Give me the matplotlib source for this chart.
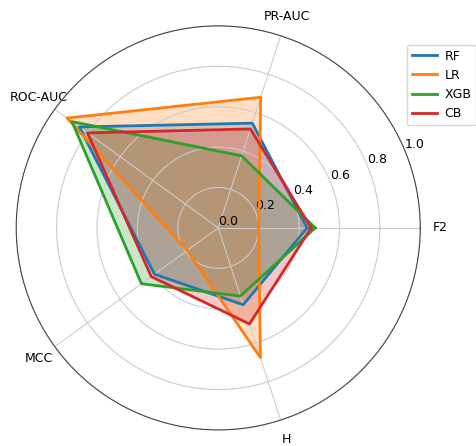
import numpy as np
import matplotlib
matplotlib.use("Agg")
import matplotlib.pyplot as plt

metrics = ["F2", "PR-AUC", "ROC-AUC", "MCC", "H"]
models = ["RF", "LR", "XGB", "CB"]
rf = [0.44, 0.545, 0.85, 0.39, 0.40]
lr = [0.20, 0.68, 0.925, 0.19, 0.675]
xgb = [0.48, 0.375, 0.895, 0.47, 0.355]
cb = [0.46, 0.515, 0.80, 0.41, 0.50]
scores = [rf, lr, xgb, cb]

angles = np.linspace(0, 2 * np.pi, len(metrics), endpoint=False)
closed = np.concatenate([angles, angles[:1]])

fig = plt.figure(figsize=(4.76, 4.46), dpi=100)
ax = fig.add_axes([0.034, 0.036, 0.849, 0.906], projection="polar")

for name, vals in zip(models, scores):
    v = vals + vals[:1]
    ax.plot(closed, v, linewidth=2, label=name)
    ax.fill(closed, v, alpha=0.25)

ax.set_xticks(angles)
ax.set_xticklabels(metrics, fontsize=9)
ax.tick_params(axis="x", pad=4)
ax.set_ylim(0, 1)
ax.set_yticks([0.0, 0.2, 0.4, 0.6, 0.8, 1.0])
ax.set_yticklabels(["0.0", "0.2", "0.4", "0.6", "0.8", "1.0"], fontsize=9)
ax.grid(True, color="#cccccc")
ax.spines["polar"].set_color("#444444")
ax.legend(loc="upper left", bbox_to_anchor=(0.855, 0.9),
          bbox_transform=fig.transFigure, fontsize=9, handlelength=2.0,
          handletextpad=0.6, borderpad=0.4, borderaxespad=0)

fig.savefig("out.png", dpi=100)
